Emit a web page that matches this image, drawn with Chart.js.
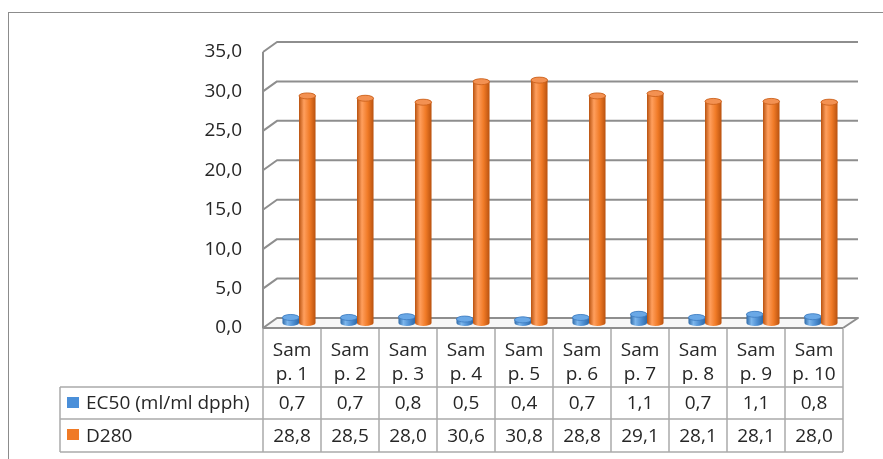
<!DOCTYPE html>
<html>
<head>
<meta charset="utf-8">
<script src="https://cdn.jsdelivr.net/npm/chart.js@4/dist/chart.umd.min.js"></script>
<style>
  html, body { margin: 0; padding: 0; background: #fff; }
  #wrap { width: 883px; height: 459px; }
</style>
</head>
<body>
<div id="wrap"><canvas id="myChart" width="883" height="459"></canvas></div>
<script>
// samples and measured values
const samples = ['Samp. 1', 'Samp. 2', 'Samp. 3', 'Samp. 4', 'Samp. 5',
                 'Samp. 6', 'Samp. 7', 'Samp. 8', 'Samp. 9', 'Samp. 10'];
const sampleLines = [['Sam', 'p. 1'], ['Sam', 'p. 2'], ['Sam', 'p. 3'], ['Sam', 'p. 4'], ['Sam', 'p. 5'],
                     ['Sam', 'p. 6'], ['Sam', 'p. 7'], ['Sam', 'p. 8'], ['Sam', 'p. 9'], ['Sam', 'p. 10']];
const ec50 = [0.7, 0.7, 0.8, 0.5, 0.4, 0.7, 1.1, 0.7, 1.1, 0.8];
const d280 = [28.8, 28.5, 28.0, 30.6, 30.8, 28.8, 29.1, 28.1, 28.1, 28.0];
const seriesNames = ['EC50 (ml/ml dpph)', 'D280'];
const yMin = 0, yMax = 35, yStep = 5;

const FONT = '"Open Sans", sans-serif';
const TEXT = '#262626';
const DEPTH_X = 14, DEPTH_Y = 10;   // offset of the back wall

const fmt = v => v.toFixed(1).replace('.', ',');

// cylinder colours: [edge dark, light, mid, top]
const cyl = [
  { dark: '#2f6aa8', light: '#7db6ec', mid: '#4e8fd3', top: '#6aa8e6', line: '#3d7bbf', key: '#4a8fd9' },
  { dark: '#b9520f', light: '#ff9f5e', mid: '#f07a26', top: '#f39152', line: '#c85d18', key: '#f07a26' }
];

function drawCylinder(ctx, x, top, base, w, c) {
  const rx = w / 2, ry = 3;
  const g = ctx.createLinearGradient(x - rx, 0, x + rx, 0);
  g.addColorStop(0, c.dark);
  g.addColorStop(0.3, c.light);
  g.addColorStop(0.65, c.mid);
  g.addColorStop(1, c.dark);
  ctx.beginPath();
  ctx.moveTo(x - rx, top);
  ctx.lineTo(x - rx, base);
  ctx.ellipse(x, base, rx, ry, 0, Math.PI, 0, true);
  ctx.lineTo(x + rx, top);
  ctx.ellipse(x, top, rx, ry, 0, 0, -Math.PI, true);
  ctx.closePath();
  ctx.fillStyle = g;
  ctx.fill();
  ctx.beginPath();
  ctx.ellipse(x, top, rx, ry, 0, 0, Math.PI * 2);
  ctx.fillStyle = c.top;
  ctx.fill();
  ctx.strokeStyle = c.line;
  ctx.lineWidth = 0.8;
  ctx.stroke();
}

// 3d walls, floor and outer frame, drawn under the bars
const walls = {
  id: 'walls',
  beforeDatasetsDraw(chart) {
    const ctx = chart.ctx, a = chart.chartArea, y = chart.scales.y;
    ctx.save();
    ctx.strokeStyle = '#8c8c8c';
    ctx.lineWidth = 1;
    ctx.strokeRect(8.5, 12.5, 1000, 1000);

    // floor
    const fy = y.getPixelForValue(0);
    ctx.beginPath();
    ctx.moveTo(a.left, fy);
    ctx.lineTo(a.right, fy);
    ctx.lineTo(a.right + DEPTH_X + 1, fy - DEPTH_Y);
    ctx.lineTo(a.left + DEPTH_X, fy - DEPTH_Y);
    ctx.closePath();
    ctx.fillStyle = '#f7f7f7';
    ctx.fill();

    ctx.strokeStyle = '#8e8e8e';
    ctx.lineWidth = 2;
    ctx.lineJoin = 'round';
    for (let v = yMin; v <= yMax; v += yStep) {
      const py = y.getPixelForValue(v);
      ctx.beginPath();
      ctx.moveTo(a.left, py);
      ctx.lineTo(a.left + DEPTH_X, py - DEPTH_Y);
      ctx.lineTo(a.right + DEPTH_X + 1, py - DEPTH_Y);
      if (v === yMin) ctx.lineTo(a.right, py);
      ctx.stroke();
    }
    // front floor edge and vertical axis
    ctx.beginPath();
    ctx.moveTo(a.left, y.getPixelForValue(yMax));
    ctx.lineTo(a.left, fy);
    ctx.lineTo(a.right, fy);
    ctx.stroke();
    ctx.restore();
  },
  afterDatasetsDraw(chart) {
    const ctx = chart.ctx;
    ctx.save();
    chart.data.datasets.forEach((ds, di) => {
      chart.getDatasetMeta(di).data.forEach(bar => {
        drawCylinder(ctx, bar.x + DEPTH_X / 2, bar.y - DEPTH_Y / 2, bar.base - DEPTH_Y / 2, bar.width, cyl[di]);
      });
    });
    ctx.restore();
  }
};

// data table with legend keys under the plot
const dataTable = {
  id: 'dataTable',
  afterDraw(chart) {
    const ctx = chart.ctx, a = chart.chartArea, x = chart.scales.x;
    const n = samples.length;
    const w = (a.right - a.left) / n;
    const top = a.bottom, r1 = top + 59, r2 = r1 + 32, r3 = r2 + 33;
    const legLeft = 60;
    ctx.save();
    ctx.strokeStyle = '#ababab';
    ctx.lineWidth = 1.5;
    ctx.beginPath();
    for (let i = 0; i <= n; i++) {
      const px = Math.round(a.left + i * w);
      ctx.moveTo(px, top + 1);
      ctx.lineTo(px, r3);
    }
    [r1, r2, r3].forEach(ry => { ctx.moveTo(legLeft, ry); ctx.lineTo(a.right, ry); });
    ctx.moveTo(legLeft, r1);
    ctx.lineTo(legLeft, r3);
    ctx.stroke();

    ctx.fillStyle = TEXT;
    ctx.font = '19px ' + FONT;
    ctx.textAlign = 'center';
    ctx.textBaseline = 'alphabetic';
    for (let i = 0; i < n; i++) {
      const cx = x.getPixelForValue(i);
      ctx.fillText(sampleLines[i][0], cx, top + 28);
      ctx.fillText(sampleLines[i][1], cx, top + 52);
      ctx.fillText(fmt(ec50[i]), cx, r1 + 22);
      ctx.fillText(fmt(d280[i]), cx, r2 + 23);
    }
    // legend keys
    ctx.textAlign = 'left';
    [r1, r2].forEach((ry, k) => {
      ctx.fillStyle = cyl[k].key;
      ctx.fillRect(67, ry + 10, 12, 11);
      ctx.fillStyle = TEXT;
      ctx.fillText(seriesNames[k], 86, ry + 22 + k);
    });
    ctx.restore();
  }
};

const ctx = document.getElementById('myChart').getContext('2d');
const myChart = new Chart(ctx, {
  type: 'bar',
  data: {
    labels: samples,
    datasets: [
      { label: seriesNames[0], data: ec50, backgroundColor: 'rgba(0,0,0,0)', borderWidth: 0 },
      { label: seriesNames[1], data: d280, backgroundColor: 'rgba(0,0,0,0)', borderWidth: 0 }
    ]
  },
  options: {
    responsive: false,
    animation: false,
    events: [],
    categoryPercentage: 0.57,
    barPercentage: 1.0,
    layout: { padding: { left: 0, right: 40, top: 52, bottom: 131 } },
    plugins: { legend: { display: false }, tooltip: { enabled: false } },
    scales: {
      x: { display: false },
      y: {
        min: yMin,
        max: yMax,
        afterFit: scale => { scale.width = 263; },
        grid: { display: false, drawTicks: false },
        border: { display: false },
        ticks: {
          stepSize: yStep,
          padding: 21,
          color: TEXT,
          font: { family: FONT, size: 19 },
          callback: v => fmt(v)
        }
      }
    }
  },
  plugins: [walls, dataTable]
});
</script>
</body>
</html>
